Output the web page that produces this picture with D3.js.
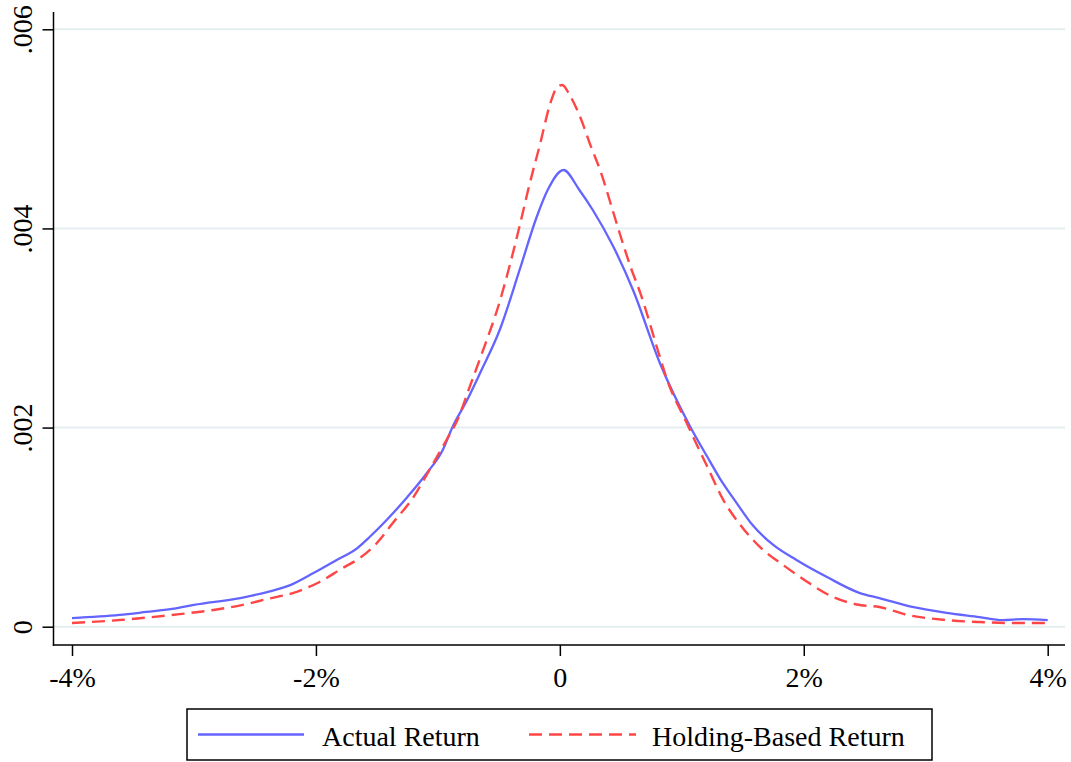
<!DOCTYPE html>
<html>
<head>
<meta charset="utf-8">
<script src="https://cdn.jsdelivr.net/npm/d3@7"></script>
<style>
  html, body { margin: 0; padding: 0; background: #ffffff; }
  svg { display: block; }
  text { font-family: "Liberation Serif", "Times New Roman", Times, serif !important; fill: #000; }
</style>
</head>
<body>
<svg id="chart" width="1071" height="762"></svg>
<script>
// ---- data (x in %, y = density) ----
const actualX = [-4.00,-3.61,-3.39,-3.18,-3.00,-2.62,-2.40,-2.21,-2.02,-1.83,-1.66,-1.56,-1.42,-1.25,-1.09,-0.96,-0.88,-0.76,-0.65,-0.49,-0.33,-0.19,-0.10,0.03,0.16,0.27,0.44,0.60,0.82,1.07,1.21,1.31,1.45,1.58,1.75,1.94,2.19,2.46,2.62,2.89,3.17,3.44,3.63,3.80,4.00];
const actualY = [0.000087,0.000118,0.000148,0.000178,0.000219,0.000288,0.000348,0.000418,0.000539,0.000670,0.000790,0.000901,0.001072,0.001303,0.001544,0.001775,0.002006,0.002277,0.002558,0.002990,0.003583,0.004115,0.004386,0.004587,0.004386,0.004185,0.003813,0.003382,0.002648,0.002006,0.001704,0.001493,0.001242,0.001021,0.000821,0.000670,0.000499,0.000338,0.000288,0.000198,0.000138,0.000097,0.000067,0.000077,0.000067];

const holdingX = [-4.00,-3.61,-3.18,-2.84,-2.60,-2.40,-2.19,-1.97,-1.78,-1.64,-1.50,-1.37,-1.20,-1.06,-0.93,-0.84,-0.74,-0.65,-0.49,-0.41,-0.33,-0.25,-0.16,-0.08,-0.02,0.02,0.08,0.17,0.25,0.33,0.44,0.49,0.58,0.66,0.82,0.88,1.04,1.21,1.34,1.48,1.64,1.83,2.03,2.24,2.46,2.62,2.85,3.17,3.44,3.72,4.00];
const holdingY = [0.000037,0.000067,0.000118,0.000168,0.000219,0.000278,0.000338,0.000449,0.000590,0.000690,0.000841,0.001041,0.001303,0.001594,0.001875,0.002076,0.002407,0.002708,0.003278,0.003633,0.004024,0.004436,0.004858,0.005250,0.005421,0.005441,0.005341,0.005109,0.004838,0.004586,0.004155,0.003954,0.003613,0.003351,0.002709,0.002478,0.002046,0.001604,0.001273,0.001022,0.000801,0.000620,0.000449,0.000298,0.000218,0.000198,0.000118,0.000067,0.000047,0.000037,0.000037];

const xTicks = [-4, -2, 0, 2, 4];
const xTickLabels = ["-4%", "-2%", "0", "2%", "4%"];
const yTicks = [0, 0.002, 0.004, 0.006];
const yTickLabels = ["0", ".002", ".004", ".006"];

const seriesNames = ["Actual Return", "Holding-Based Return"];
const seriesColors = ["#6464ff", "#ff4646"];

// ---- layout ----
const FONT = "Liberation Serif, Times New Roman, serif";
const svg = d3.select("#chart");
const axisLeftX = 53.5, axisBottomY = 645, axisTopY = 12, axisRightX = 1065;

const x = d3.scaleLinear().domain([-4, 4]).range([72, 1047.7]);
const y = d3.scaleLinear().domain([0, 0.006]).range([626.7, 29.3]);

svg.append("rect").attr("width", 1071).attr("height", 762).attr("fill", "#fff");

// gridlines
svg.append("g").selectAll("line").data(yTicks).join("line")
  .attr("x1", axisLeftX).attr("x2", axisRightX)
  .attr("y1", d => y(d)).attr("y2", d => y(d))
  .attr("stroke", "#e5eef0").attr("stroke-width", 2);

// y axis
const yAxis = d3.axisLeft(y).tickValues(yTicks)
  .tickFormat((d, i) => yTickLabels[i]).tickSize(11).tickSizeOuter(0);
const gy = svg.append("g").attr("transform", `translate(${axisLeftX},0)`).call(yAxis)
  .attr("font-family", FONT).attr("font-size", 28);
gy.select(".domain").remove();
gy.selectAll(".tick line").attr("stroke", "#000").attr("stroke-width", 1.5);
gy.selectAll(".tick text")
  .attr("transform", "rotate(-90)")
  .attr("x", 0).attr("y", -21.5).attr("dy", 0)
  .attr("text-anchor", "middle")
  .attr("font-family", FONT).attr("font-size", 28);

svg.append("line").attr("x1", axisLeftX).attr("x2", axisLeftX)
  .attr("y1", axisTopY).attr("y2", axisBottomY + 0.75)
  .attr("stroke", "#000").attr("stroke-width", 1.5);

// x axis
const xAxis = d3.axisBottom(x).tickValues(xTicks)
  .tickFormat((d, i) => xTickLabels[i]).tickSize(11).tickSizeOuter(0);
const gx = svg.append("g").attr("transform", `translate(0,${axisBottomY})`).call(xAxis)
  .attr("font-family", FONT).attr("font-size", 28);
gx.select(".domain").remove();
gx.selectAll(".tick line").attr("stroke", "#000").attr("stroke-width", 1.5);
gx.selectAll(".tick text")
  .attr("y", 42).attr("dy", 0)
  .attr("font-family", FONT).attr("font-size", 28);

svg.append("line").attr("x1", axisLeftX - 0.75).attr("x2", axisRightX)
  .attr("y1", axisBottomY).attr("y2", axisBottomY)
  .attr("stroke", "#000").attr("stroke-width", 1.5);

// lines
const line = d3.line().x(d => x(d[0])).y(d => y(d[1])).curve(d3.curveMonotoneX);
const actualData = actualX.map((v, i) => [v, actualY[i]]);
const holdingData = holdingX.map((v, i) => [v, holdingY[i]]);

svg.append("path").datum(actualData).attr("d", line)
  .attr("fill", "none").attr("stroke", seriesColors[0]).attr("stroke-width", 2.3)
  .attr("stroke-linejoin", "round");
svg.append("path").datum(holdingData).attr("d", line)
  .attr("fill", "none").attr("stroke", seriesColors[1]).attr("stroke-width", 2.4)
  .attr("stroke-dasharray", "13,7");

// legend
const lg = svg.append("g").attr("font-family", FONT).attr("font-size", 28);
lg.append("rect").attr("x", 187).attr("y", 709).attr("width", 745).attr("height", 51)
  .attr("fill", "#fff").attr("stroke", "#000").attr("stroke-width", 1.5);
const legendItems = [
  { sx1: 198, sx2: 304, tx: 322, dash: null },
  { sx1: 529, sx2: 636, tx: 652, dash: "13,7" }
];
legendItems.forEach((it, i) => {
  const l = lg.append("line").attr("x1", it.sx1).attr("x2", it.sx2)
    .attr("y1", 734.5).attr("y2", 734.5)
    .attr("stroke", seriesColors[i]).attr("stroke-width", 2.3);
  if (it.dash) l.attr("stroke-dasharray", it.dash);
  lg.append("text").attr("x", it.tx).attr("y", 746)
    .attr("font-family", FONT).attr("font-size", 28).text(seriesNames[i]);
});
</script>
</body>
</html>
